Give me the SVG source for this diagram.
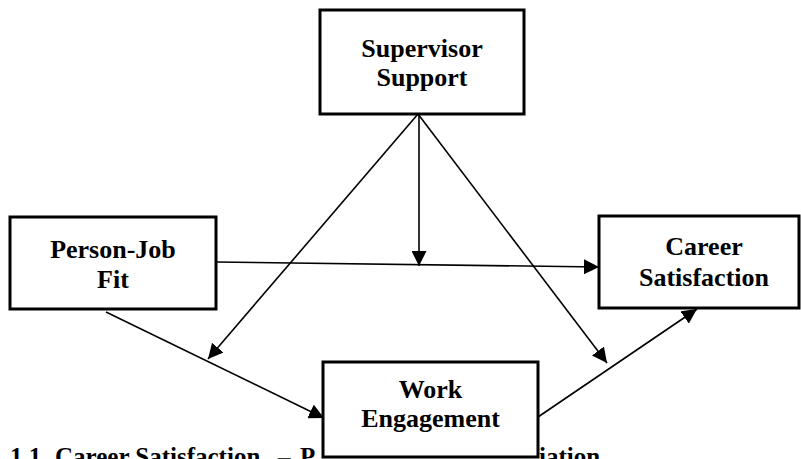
<svg xmlns="http://www.w3.org/2000/svg" width="801" height="459" viewBox="0 0 801 459">
<style>
.box{fill:#fff;stroke:#000;stroke-width:3}
.lbl{font-family:'Liberation Serif','Times New Roman','DejaVu Serif',serif;font-weight:700;font-size:26px;fill:#000;text-anchor:middle}
.cap{font-family:'Liberation Serif','Times New Roman','DejaVu Serif',serif;font-weight:700;font-size:25px;fill:#000}
.edge{stroke:#000;stroke-width:1.6;fill:none;marker-end:url(#ah)}
</style>
<defs>
<marker id="ah" markerUnits="userSpaceOnUse" markerWidth="15" markerHeight="15" refX="14" refY="7" orient="auto" viewBox="0 0 14 14">
<path d="M0,0 L14,7 L0,14 Z" fill="#000"/>
</marker>
</defs>
<rect width="801" height="459" fill="#fff"/>
<g id="caption">
<text class="cap" y="465"><tspan x="10">1.1.</tspan><tspan x="55">Career Satisfaction</tspan><tspan x="278">–</tspan><tspan x="300">P</tspan></text>
<text class="cap" x="539" y="465">iation</text>
</g>
<g id="connectors">
<line class="edge" x1="216" y1="262" x2="599" y2="267"/>
<line class="edge" x1="419" y1="114" x2="419" y2="266"/>
<line class="edge" x1="418" y1="114" x2="208" y2="359"/>
<line class="edge" x1="418" y1="114" x2="607" y2="363"/>
<line class="edge" x1="106" y1="312" x2="324" y2="418"/>
<line class="edge" x1="538" y1="417" x2="697" y2="309"/>
</g>
<g id="supervisor-support">
<rect class="box" x="320" y="10" width="204" height="104"/>
<text class="lbl" x="422" y="57">Supervisor</text>
<text class="lbl" x="422" y="86">Support</text>
</g>
<g id="person-job-fit">
<rect class="box" x="10" y="217" width="206" height="92"/>
<text class="lbl" x="113" y="258">Person-Job</text>
<text class="lbl" x="113" y="288">Fit</text>
</g>
<g id="career-satisfaction">
<rect class="box" x="599" y="216" width="200" height="92"/>
<text class="lbl" x="704" y="255">Career</text>
<text class="lbl" x="704" y="286">Satisfaction</text>
</g>
<g id="work-engagement">
<rect class="box" x="323" y="362" width="215" height="95"/>
<text class="lbl" x="430.5" y="398">Work</text>
<text class="lbl" x="430.5" y="427">Engagement</text>
</g>
</svg>
